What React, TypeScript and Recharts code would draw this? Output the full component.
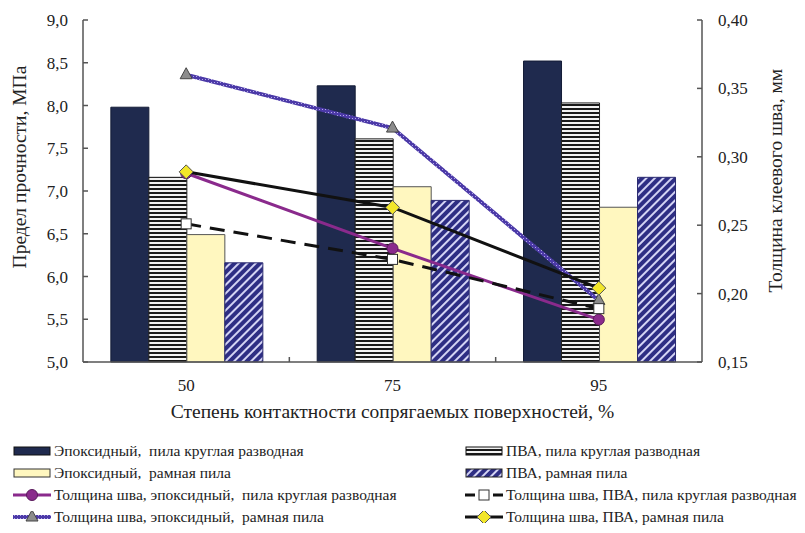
import React from 'react';
import { ComposedChart, Bar, Line, XAxis, YAxis } from 'recharts';

// Contact degree categories, %
const CATEGORIES = ['50', '75', '95'];

// Strength, MPa (left axis)
const EPOXY_CIRCULAR = [7.98, 8.23, 8.52];
const PVA_CIRCULAR = [7.16, 7.61, 8.03];
const EPOXY_FRAME = [6.49, 7.05, 6.81];
const PVA_FRAME = [6.16, 6.89, 7.16];

// Glue line thickness, mm (right axis)
const SEAM_EPOXY_CIRCULAR = [0.288, 0.233, 0.181];
const SEAM_PVA_CIRCULAR = [0.251, 0.225, 0.189];
const SEAM_EPOXY_FRAME = [0.36, 0.321, 0.195];
const SEAM_PVA_FRAME = [0.289, 0.263, 0.204];

const STRENGTH_TICKS = [5, 5.5, 6, 6.5, 7, 7.5, 8, 8.5, 9];
const SEAM_TICKS = [0.15, 0.2, 0.25, 0.3, 0.35, 0.4];

const NAMES = [
  'Эпоксидный,  пила круглая разводная',
  'ПВА, пила круглая разводная',
  'Эпоксидный,  рамная пила',
  'ПВА, рамная пила',
  'Толщина шва, эпоксидный,  пила круглая разводная',
  'Толщина шва, ПВА, пила круглая разводная',
  'Толщина шва, эпоксидный,  рамная пила',
  'Толщина шва, ПВА, рамная пила',
];

const data = CATEGORIES.map((c, i) => ({
  cat: c,
  epoxyCirc: EPOXY_CIRCULAR[i],
  pvaCirc: PVA_CIRCULAR[i],
  epoxyFrame: EPOXY_FRAME[i],
  pvaFrame: PVA_FRAME[i],
  seamEpoxyCirc: SEAM_EPOXY_CIRCULAR[i],
  seamPvaCirc: SEAM_PVA_CIRCULAR[i],
  seamEpoxyFrame: SEAM_EPOXY_FRAME[i],
  seamPvaFrame: SEAM_PVA_FRAME[i],
}));

const FONT = '"Liberation Serif", "Times New Roman", serif';
const TEXT = '#222';
const AXIS = '#555';
const NAVY = '#1f2a4e';
const YELLOW = '#fff7bf';
const PURPLE = '#8a2a8c';
const VIOLET = '#4c3aa8';

const comma = (v: number, d: number) => v.toFixed(d).replace('.', ',');

// ticks drawn by hand so the tick marks point into the plot
const LeftTick = ({ x, y, payload }: any) => (
  <g>
    <line x1={x + 15} x2={x + 20} y1={y} y2={y} stroke={AXIS} strokeWidth={1.5} />
    <text x={x} y={y + 6} textAnchor="end" fontSize={17} fill={TEXT} fontFamily={FONT}>
      {comma(payload.value, 1)}
    </text>
  </g>
);

const RightTick = ({ x, y, payload }: any) => (
  <g>
    <line x1={x - 15} x2={x - 20} y1={y} y2={y} stroke={AXIS} strokeWidth={1.5} />
    <text x={x + 1} y={y + 6} textAnchor="start" fontSize={17} fill={TEXT} fontFamily={FONT}>
      {comma(payload.value, 2)}
    </text>
  </g>
);

// category label in the band centre, small tick on the band boundary
const CatTick = ({ x, y, payload, index, width, visibleTicksCount }: any) => {
  const half = payload.offset || (width && visibleTicksCount ? width / visibleTicksCount / 2 : 103);
  const axisY = y - 17;
  return (
    <g>
      {index > 0 && (
        <line x1={x - half} x2={x - half} y1={axisY} y2={axisY - 5} stroke={AXIS} strokeWidth={1.5} />
      )}
      <text x={x} y={y + 12} textAnchor="middle" fontSize={17} fill={TEXT} fontFamily={FONT}>
        {payload.value}
      </text>
    </g>
  );
};

const VTitle = ({ viewBox, value, dx, frac }: any) => {
  const x = viewBox.x + dx;
  const y = viewBox.y + viewBox.height * frac;
  return (
    <text
      x={x}
      y={y}
      transform={`rotate(-90, ${x}, ${y})`}
      textAnchor="middle"
      fontSize={19.5}
      fill={TEXT}
      fontFamily={FONT}
    >
      {value}
    </text>
  );
};

const TriangleDot = ({ cx, cy }: any) => (
  <path d={`M${cx},${cy - 7} L${cx + 6},${cy + 4} L${cx - 6},${cy + 4} Z`} fill="#8c8c8c" stroke="#444" strokeWidth={1} />
);
const SquareDot = ({ cx, cy }: any) => (
  <rect x={cx - 5} y={cy - 5} width={10} height={10} fill="#fff" stroke="#333" strokeWidth={1} />
);
const DiamondDot = ({ cx, cy }: any) => (
  <path d={`M${cx},${cy - 7} L${cx + 7},${cy} L${cx},${cy + 7} L${cx - 7},${cy} Z`} fill="#f2e62a" stroke="#555" strokeWidth={1} />
);
const CircleDot = ({ cx, cy }: any) => (
  <circle cx={cx} cy={cy} r={5.5} fill={PURPLE} stroke="#5a1a5c" strokeWidth={1} />
);

const Defs = () => (
  <defs>
    <pattern id="hstripe" width="4" height="4" patternUnits="userSpaceOnUse">
      <rect width="4" height="4" fill="#f2f2f2" />
      <rect width="4" height="2" fill="#1a1a1a" />
    </pattern>
    <pattern id="diag" width="6" height="6" patternUnits="userSpaceOnUse" patternTransform="rotate(45)">
      <rect width="6" height="6" fill="#2e2e84" />
      <rect width="2" height="6" fill="#d4d4f4" />
    </pattern>
    {/* dotted texture for the violet thickness line */}
    <pattern id="violetTex" width="3" height="3" patternUnits="userSpaceOnUse">
      <rect width="3" height="3" fill={VIOLET} />
      <rect x="1" y="1" width="1" height="1" fill="#b3a8ea" />
    </pattern>
  </defs>
);

const Swatch = ({ kind }: { kind: number }) => {
  const w = 38;
  return (
    <svg width={w} height={12} style={{ display: 'block', flex: 'none' }}>
      {kind === 0 && <rect x={1} y={2} width={w - 2} height={8} fill={NAVY} stroke="#111" />}
      {kind === 1 && <rect x={1} y={2} width={w - 2} height={8} fill="url(#hstripe)" stroke="#111" />}
      {kind === 2 && <rect x={1} y={2} width={w - 2} height={8} fill={YELLOW} stroke="#333" />}
      {kind === 3 && <rect x={1} y={2} width={w - 2} height={8} fill="url(#diag)" stroke="#222" />}
      {kind === 4 && (
        <>
          <line x1={0} x2={w} y1={6} y2={6} stroke={PURPLE} strokeWidth={3} />
          <CircleDot cx={w / 2} cy={6} />
        </>
      )}
      {kind === 5 && (
        <>
          <line x1={0} x2={w} y1={6} y2={6} stroke="#111" strokeWidth={3} strokeDasharray="10 4" />
          <SquareDot cx={w / 2} cy={6} />
        </>
      )}
      {kind === 6 && (
        <>
          <rect x={0} y={4} width={w} height={4} fill="url(#violetTex)" />
          <TriangleDot cx={w / 2} cy={6} />
        </>
      )}
      {kind === 7 && (
        <>
          <line x1={0} x2={w} y1={6} y2={6} stroke="#111" strokeWidth={3} />
          <DiamondDot cx={w / 2} cy={6} />
        </>
      )}
    </svg>
  );
};

const ChartLegend = () => (
  <div style={{ position: 'absolute', left: 0, top: 441, width: 805 }}>
    {NAMES.map((name, i) => (
      <div
        key={name}
        style={{
          position: 'absolute',
          left: i % 2 === 0 ? 13 : 465,
          top: Math.floor(i / 2) * 22,
          height: 20,
          display: 'flex',
          alignItems: 'center',
          whiteSpace: 'pre',
          fontFamily: FONT,
          fontSize: 15.5,
          color: TEXT,
        }}
      >
        <Swatch kind={i} />
        <span style={{ marginLeft: 3 }}>{name}</span>
      </div>
    ))}
  </div>
);

export default function App() {
  return (
    <div style={{ position: 'relative', width: 805, height: 533, background: '#fff' }}>
      <style>{'body{margin:0}'}</style>
      <svg width={0} height={0} style={{ position: 'absolute' }}>
        <Defs />
      </svg>
      <ComposedChart
        width={805}
        height={440}
        data={data}
        margin={{ top: 20, right: 0, bottom: 0, left: 0 }}
        barCategoryGap="13.5%"
        barGap={0}
      >
        <XAxis
          dataKey="cat"
          height={78}
          tickLine={false}
          tickSize={0}
          tickMargin={17}
          stroke={AXIS}
          strokeWidth={1.5}
          tick={<CatTick />}
          label={{
            value: 'Степень контактности сопрягаемых поверхностей, %',
            position: 'insideBottom',
            offset: 22,
            fontSize: 19.5,
            fill: TEXT,
            fontFamily: FONT,
          }}
        />
        <YAxis
          yAxisId="left"
          width={83}
          domain={[5, 9]}
          ticks={STRENGTH_TICKS}
          tickLine={false}
          tickSize={0}
          tickMargin={15}
          stroke={AXIS}
          strokeWidth={1.5}
          tick={<LeftTick />}
          label={(p: any) => <VTitle {...p} value="Предел прочности, МПа" dx={26} frac={0.43} />}
        />
        <YAxis
          yAxisId="right"
          orientation="right"
          width={103}
          domain={[0.15, 0.4]}
          ticks={SEAM_TICKS}
          tickLine={false}
          tickSize={0}
          tickMargin={15}
          stroke={AXIS}
          strokeWidth={1.5}
          tick={<RightTick />}
          label={(p: any) => <VTitle {...p} value="Толщина клеевого шва, мм" dx={80} frac={0.47} />}
        />
        <Bar yAxisId="left" dataKey="epoxyCirc" name={NAMES[0]} fill={NAVY} stroke="#141c36" strokeWidth={1} isAnimationActive={false} />
        <Bar yAxisId="left" dataKey="pvaCirc" name={NAMES[1]} fill="url(#hstripe)" stroke="#222" strokeWidth={1} isAnimationActive={false} />
        <Bar yAxisId="left" dataKey="epoxyFrame" name={NAMES[2]} fill={YELLOW} stroke="#555" strokeWidth={1} isAnimationActive={false} />
        <Bar yAxisId="left" dataKey="pvaFrame" name={NAMES[3]} fill="url(#diag)" stroke="#2a2a70" strokeWidth={1} isAnimationActive={false} />
        <Line
          yAxisId="right"
          dataKey="seamEpoxyFrame"
          name={NAMES[6]}
          stroke="url(#violetTex)"
          strokeWidth={4}
          dot={(p: any) => <TriangleDot key={p.index} {...p} />}
          isAnimationActive={false}
        />
        <Line
          yAxisId="right"
          dataKey="seamEpoxyCirc"
          name={NAMES[4]}
          stroke={PURPLE}
          strokeWidth={3}
          dot={(p: any) => <CircleDot key={p.index} {...p} />}
          isAnimationActive={false}
        />
        <Line
          yAxisId="right"
          dataKey="seamPvaCirc"
          name={NAMES[5]}
          stroke="#111"
          strokeWidth={3}
          strokeDasharray="15 9"
          dot={(p: any) => <SquareDot key={p.index} {...p} />}
          isAnimationActive={false}
        />
        <Line
          yAxisId="right"
          dataKey="seamPvaFrame"
          name={NAMES[7]}
          stroke="#111"
          strokeWidth={3}
          dot={(p: any) => <DiamondDot key={p.index} {...p} />}
          isAnimationActive={false}
        />
      </ComposedChart>
      <ChartLegend />
    </div>
  );
}
